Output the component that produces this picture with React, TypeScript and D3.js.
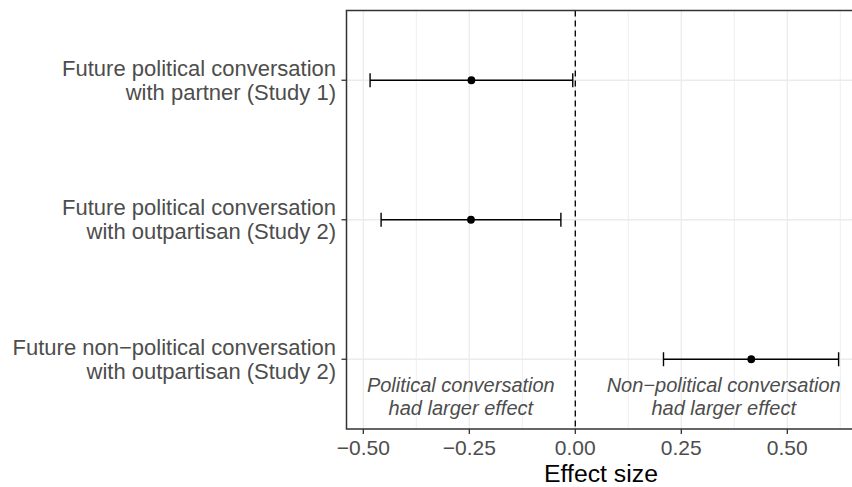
import React from "react";
import * as d3 from "d3";

const categories = [
  ["Future political conversation", "with partner (Study 1)"],
  ["Future political conversation", "with outpartisan (Study 2)"],
  ["Future non\u2212political conversation", "with outpartisan (Study 2)"],
];
const estimates = [-0.245, -0.246, 0.415];
const lowers = [-0.484, -0.458, 0.208];
const uppers = [-0.006, -0.034, 0.621];

const xTicks = [-0.5, -0.25, 0, 0.25, 0.5];
const xTickLabels = ["\u22120.50", "\u22120.25", "0.00", "0.25", "0.50"];
const xMinor = [-0.375, -0.125, 0.125, 0.375, 0.625];

const annotations = [
  { x: -0.27, lines: ["Political conversation", "had larger effect"] },
  { x: 0.35, lines: ["Non\u2212political conversation", "had larger effect"] },
];

const W = 852;
const H = 487;
const PL = 346.5;
const PR = 856;
const PT = 10.5;
const PB = 429;

export default function App() {
  // x: 0 at 575.3, 424 px per unit
  const x0 = 575.3;
  const k = 424;
  const x = d3
    .scaleLinear()
    .domain([(PL - x0) / k, (PR - x0) / k])
    .range([PL, PR]);
  const keys = categories.map((_, i) => String(i));
  const y = d3.scalePoint<string>().domain(keys).range([PT, PB]).padding(0.5);
  const annY = (y("2") as number) + 0.25 * y.step();

  const font = "'Liberation Sans', Arial, Helvetica, sans-serif";

  return (
    <svg
      width={W}
      height={H}
      style={{ position: "absolute", left: 0, top: 0 }}
      fontFamily={font}
    >
      <rect x={0} y={0} width={W} height={H} fill="#fff" />
      {/* minor grid */}
      {xMinor.map((v) => (
        <line key={"mi" + v} x1={x(v)} x2={x(v)} y1={PT} y2={PB} stroke="#EBEBEB" strokeWidth={0.8} />
      ))}
      {/* major grid */}
      {xTicks.map((v) => (
        <line key={"ma" + v} x1={x(v)} x2={x(v)} y1={PT} y2={PB} stroke="#EBEBEB" strokeWidth={1.3} />
      ))}
      {keys.map((kk) => (
        <line key={"hy" + kk} x1={PL} x2={PR} y1={y(kk)} y2={y(kk)} stroke="#EBEBEB" strokeWidth={1.3} />
      ))}
      {/* annotations */}
      {annotations.map((a, i) => (
        <text
          key={"an" + i}
          x={x(a.x)}
          textAnchor="middle"
          fontStyle="italic"
          fontSize={20}
          fill="#4D4D4D"
        >
          {a.lines.map((l, j) => (
            <tspan key={j} x={x(a.x)} y={annY - 2.5 + j * 23.4}>
              {l}
            </tspan>
          ))}
        </text>
      ))}
      {/* zero line */}
      <line x1={x(0)} x2={x(0)} y1={PT} y2={PB} stroke="#000" strokeWidth={1.3} strokeDasharray="6,4" />
      {/* error bars */}
      {keys.map((kk, i) => {
        const yy = y(kk) as number;
        return (
          <g key={"eb" + kk}>
            <line x1={x(lowers[i])} x2={x(uppers[i])} y1={yy} y2={yy} stroke="#000" strokeWidth={1.4} />
            <line x1={x(lowers[i])} x2={x(lowers[i])} y1={yy - 7} y2={yy + 7} stroke="#000" strokeWidth={1.4} />
            <line x1={x(uppers[i])} x2={x(uppers[i])} y1={yy - 7} y2={yy + 7} stroke="#000" strokeWidth={1.4} />
            <circle cx={x(estimates[i])} cy={yy} r={3.9} fill="#000" />
          </g>
        );
      })}
      {/* panel border */}
      <rect x={PL} y={PT} width={PR - PL} height={PB - PT} fill="none" stroke="#333" strokeWidth={1.5} />
      {/* y ticks and labels */}
      {keys.map((kk, i) => {
        const yy = y(kk) as number;
        return (
          <g key={"yt" + kk}>
            <line x1={PL - 5} x2={PL} y1={yy} y2={yy} stroke="#333" strokeWidth={1.3} />
            <text textAnchor="end" fontSize={22} fill="#4D4D4D">
              {categories[i].map((l, j) => (
                <tspan key={j} x={336} y={yy - 4.5 + j * 24}>
                  {l}
                </tspan>
              ))}
            </text>
          </g>
        );
      })}
      {/* x ticks and labels */}
      {xTicks.map((v, i) => (
        <g key={"xt" + v}>
          <line x1={x(v)} x2={x(v)} y1={PB} y2={PB + 5} stroke="#333" strokeWidth={1.3} />
          <text x={x(v)} y={454.5} textAnchor="middle" fontSize={21} fill="#4D4D4D">
            {xTickLabels[i]}
          </text>
        </g>
      ))}
      <text x={601} y={481.6} textAnchor="middle" fontSize={24.8} fill="#000">
        Effect size
      </text>
    </svg>
  );
}
